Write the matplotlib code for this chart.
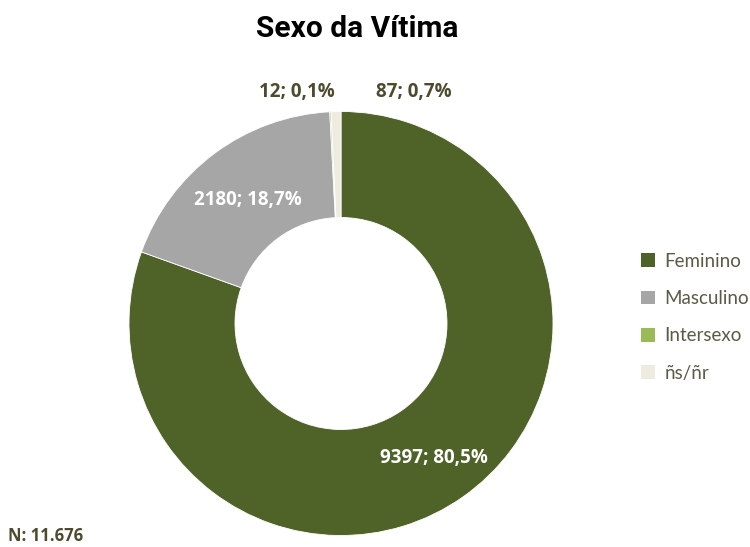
import matplotlib
matplotlib.use("Agg")
import matplotlib.pyplot as plt
from matplotlib.patches import Patch

categories = ["Feminino", "Masculino", "Intersexo", "ñs/ñr"]
counts = [9397, 2180, 12, 87]
percents = ["80,5%", "18,7%", "0,1%", "0,7%"]
colors = ["#4f6228", "#a6a6a6", "#9bbb59", "#eeece1"]
title = "Sexo da Vítima"
total_label = "N: 11.676"

fig = plt.figure(figsize=(7.5, 5.47), dpi=100)
ax = fig.add_axes([0, 0, 1, 1])
ax.set_xlim(0, 750)
ax.set_ylim(0, 547)
ax.axis("off")

cx, cy, r = 341, 547 - 323.5, 212
wedges, _ = ax.pie(counts, colors=colors, startangle=90, counterclock=False,
                   center=(cx, cy), radius=r,
                   wedgeprops=dict(width=r * 0.5, edgecolor="white", linewidth=0.6))
ax.set_xlim(0, 750)
ax.set_ylim(0, 547)
ax.set_aspect("equal")

lab_font = ["Open Sans", "DejaVu Sans"]
lab_col = "#4d4a2e"
label_pos = [(434, 458, "white"), (248, 200, "white"), (297, 92, lab_col), (414, 92, lab_col)]
for c, p, (x, y, col) in zip(counts, percents, label_pos):
    ax.text(x, 547 - y, f"{c}; {p}", ha="center", va="center", color=col,
            fontsize=13.5, fontweight="bold", family=lab_font)

ax.text(357, 547 - 29, title, ha="center", va="center", fontsize=21.5,
        fontweight="bold", family=["Roboto", "DejaVu Sans"], color="black")
ax.text(8, 547 - 536, total_label, ha="left", va="center", fontsize=12,
        fontweight="bold", family=lab_font, color=lab_col)

handles = [Patch(facecolor=c, edgecolor="none") for c in colors]
leg = ax.legend(handles, categories, loc="upper left", bbox_to_anchor=(624 / 750, 1 - 236 / 547),
                frameon=False, labelspacing=1.08, handlelength=0.75,
                handleheight=0.75, handletextpad=0.5,
                prop={"family": ["Lato", "DejaVu Sans"], "size": 13.5})
for t in leg.get_texts():
    t.set_color("#5a5a45")

fig.savefig("out.png", dpi=100)
